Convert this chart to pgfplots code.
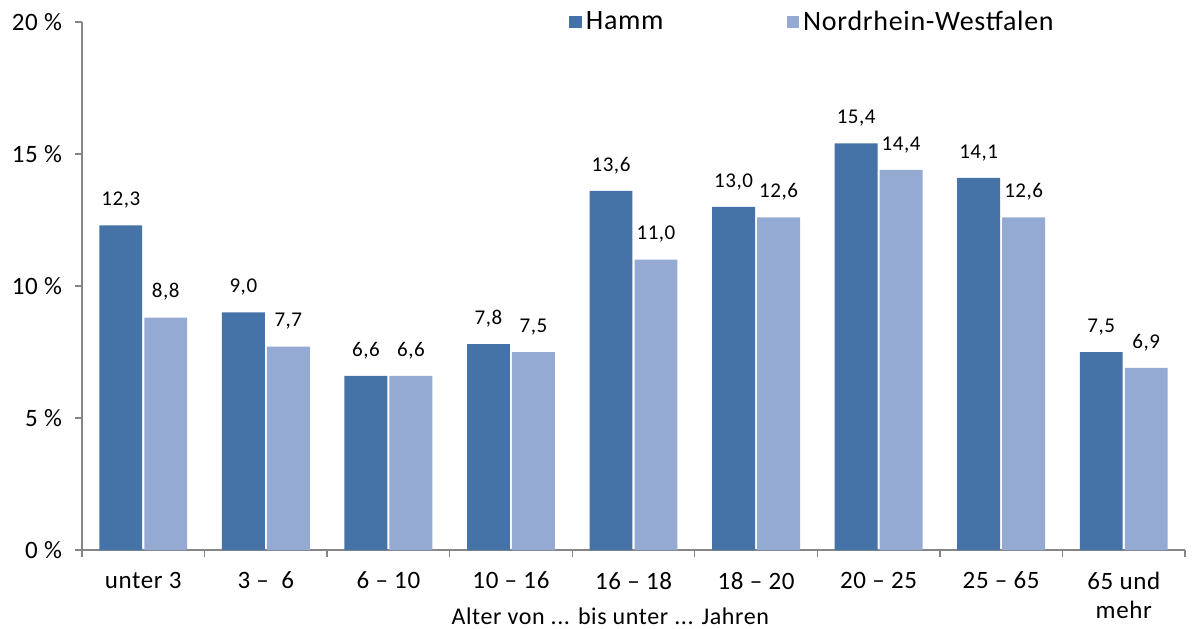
\documentclass[border=0pt]{standalone}
\usepackage{pgfplots}
\pgfplotsset{compat=1.18}
\usepackage{fontspec}
\setmainfont{Carlito}[LetterSpace=2.5]
\definecolor{hamm}{RGB}{69,114,167}
\definecolor{nrw}{RGB}{149,170,210}
\definecolor{axgray}{RGB}{134,134,134}
\begin{document}
\begin{tikzpicture}
\useasboundingbox (0,0) rectangle (596.5pt,314pt);
\begin{axis}[
  at={(41pt,39pt)}, anchor=south west,
  scale only axis, width=551.5pt, height=264pt,
  xmin=-0.5, xmax=8.5, ymin=0, ymax=20,
  axis lines=left,
  axis line style={draw=axgray, line width=0.7pt, -},
  tick align=outside,
  major tick length=3.5pt, minor tick length=3.5pt,
  tick style={draw=axgray, line width=0.7pt},
  xtick={0,...,8},
  major x tick style={draw=none},
  minor xtick={-0.5,0.5,...,8.5},
  xticklabels={unter 3, 3 --\ \ 6, 6 -- 10, 10 -- 16, 16 -- 18, 18 -- 20, 20 -- 25, 25 -- 65, {65 und\\mehr}},
  xticklabel style={font=\fontsize{12.5}{14.5}\selectfont, align=center, yshift=-4pt},
  ytick={0,5,10,15,20},
  yticklabels={0 \%,5 \%,10 \%,15 \%,20 \%},
  yticklabel style={font=\fontsize{12.5}{15}\selectfont, xshift=-3pt},
  xlabel={Alter von ... bis unter ... Jahren},
  xlabel style={at={(axis description cs:0.479,0)}, anchor=center, yshift=-33pt, font=\fontsize{12}{15}\selectfont},
  ybar, bar width=0.35,
  nodes near coords,
  point meta=y,
  nodes near coords style={font=\fontsize{10.5}{12}\selectfont, anchor=south, yshift=5pt,
    /pgf/number format/.cd, fixed, fixed zerofill, precision=1, use comma, assume math mode=true},
  legend style={at={(0.436,1.0)}, anchor=west, draw=none, fill=none,
    legend columns=2, font=\fontsize{14}{16}\selectfont,
    /tikz/every even column/.append style={column sep=59.5pt}},
  legend image code/.code={\fill[#1,draw=none] (0pt,-3.15pt) rectangle (6.3pt,3.15pt);},
]
\addplot[fill=hamm, draw=none, bar shift=-0.1835] coordinates {
  (0,12.3) (1,9.0) (2,6.6) (3,7.8) (4,13.6) (5,13.0) (6,15.4) (7,14.1) (8,7.5)};
\addplot[fill=nrw, draw=none, bar shift=0.1835] coordinates {
  (0,8.8) (1,7.7) (2,6.6) (3,7.5) (4,11.0) (5,12.6) (6,14.4) (7,12.6) (8,6.9)};
\legend{Hamm, Nordrhein-Westfalen}
\end{axis}
\end{tikzpicture}
\end{document}
